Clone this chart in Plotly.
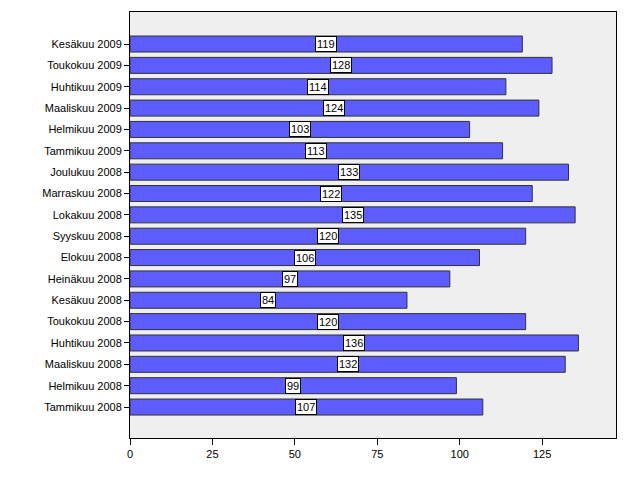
import plotly.graph_objects as go

categories = ["Tammikuu 2008", "Helmikuu 2008", "Maaliskuu 2008", "Huhtikuu 2008",
              "Toukokuu 2008", "Kesäkuu 2008", "Heinäkuu 2008", "Elokuu 2008",
              "Syyskuu 2008", "Lokakuu 2008", "Marraskuu 2008", "Joulukuu 2008",
              "Tammikuu 2009", "Helmikuu 2009", "Maaliskuu 2009", "Huhtikuu 2009",
              "Toukokuu 2009", "Kesäkuu 2009"]
values = [107, 99, 132, 136, 120, 84, 97, 106, 120, 135, 122, 133,
          113, 103, 124, 114, 128, 119]
x_ticks = [0, 25, 50, 75, 100, 125]

fig = go.Figure()
fig.add_trace(go.Bar(
    x=values, y=categories, orientation="h", width=0.75,
    marker=dict(color="#5c5cff", line=dict(color="#333333", width=1)),
    hoverinfo="x+y",
))

for c, v in zip(categories, values):
    fig.add_annotation(
        x=v / 2, y=c, text=str(v), showarrow=False,
        font=dict(family="Arial, Liberation Sans", size=11, color="black"),
        bgcolor="white", bordercolor="black", borderwidth=1, borderpad=1,
    )

fig.update_layout(
    width=629, height=504,
    margin=dict(l=130, r=13, t=12, b=66),
    paper_bgcolor="white", plot_bgcolor="#efefef",
    showlegend=False,
    font=dict(family="Arial, Liberation Sans", size=11, color="black"),
    xaxis=dict(range=[0, 147.4], tickvals=x_ticks, ticks="outside", ticklen=6,
               tickcolor="black", showgrid=False, zeroline=False,
               showline=True, linecolor="black", linewidth=1, mirror=True),
    yaxis=dict(categoryorder="array", categoryarray=categories,
               range=[-1.45, 18.5], ticks="outside", ticklen=5, tickcolor="black",
               showgrid=False, zeroline=False,
               showline=True, linecolor="black", linewidth=1, mirror=True),
)

fig.write_html("out.html")
